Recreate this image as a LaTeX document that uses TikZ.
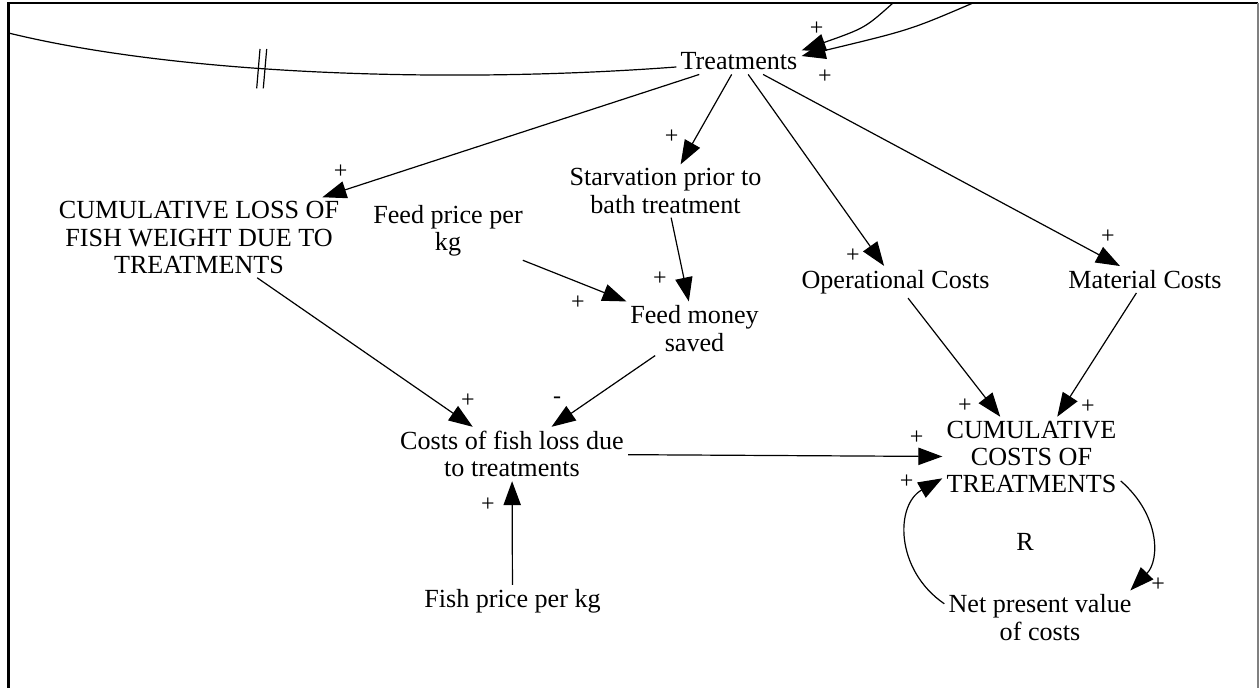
\documentclass[tikz,border=0pt]{standalone}
\usepackage{fontspec}
\setmainfont{Liberation Serif}
\usetikzlibrary{arrows.meta}

\begin{document}
\begin{tikzpicture}[x=0.75pt,y=-0.75pt,
	var/.style={inner sep=3pt, align=center, font=\fontsize{19.6}{20.4}\selectfont},
	pol/.style={inner sep=0pt, font=\fontsize{18}{20}\selectfont},
	link/.style={draw=black, line width=0.9pt, -{Triangle[length=18pt,width=13pt]}}]
	\useasboundingbox (0,0) rectangle (1259,688);
	\draw [black, line width=1.6pt] (8.5,688) -- (8.5,3) -- (1258,3);
	\draw [gray, line width=1pt] (1258,3) -- (1258,688);
	\node [var] (treat) at (739,61.5) {Treatments};
	\node [var] (cumloss) at (199,237.5) {CUMULATIVE LOSS OF\\FISH WEIGHT DUE TO\\TREATMENTS};
	\node [var] (feedprice) at (448,230.5) {Feed price per\\kg};
	\node [var] (starve) at (665.5,191) {Starvation prior to\\bath treatment};
	\node [var] (feedsaved) at (694.5,328.5) {Feed money\\saved};
	\node [var] (opcost) at (895.5,282) {Operational Costs};
	\node [var] (matcost) at (1145,279.5) {Material Costs};
	\node [var] (fishloss) at (512,454) {Costs of fish loss due\\to treatments};
	\node [var] (cumcost) at (1031.5,457) {CUMULATIVE\\COSTS OF\\TREATMENTS};
	\node [var] (fishprice) at (512.5,601) {Fish price per kg};
	\node [var] (npv) at (1040,617.5) {Net present value\\of costs};
	\node [var, inner sep=0pt] (loopr) at (1025,542) {R};
	\coordinate (leftend) at (8.5,33);
	\coordinate (topa) at (893,3);
	\coordinate (topb) at (973,3);
	\draw [line width=0.9pt] (treat.185) .. controls (450,84) and (180,75) .. (leftend);
	\draw [line width=0.9pt] (260,49) -- (256.7,88.3);
	\draw [line width=0.9pt] (266.7,49) -- (263.3,88.3);
	\draw [link] (topa) .. controls (865,28) .. (treat.10);
	\draw [link] (topb) .. controls (910,30) .. (treat.5);
	\draw [link] (treat) -- (cumloss);
	\draw [link] (treat) -- (starve);
	\draw [link] (treat) -- (opcost);
	\draw [link] (treat) -- (matcost);
	\draw [link] (starve) -- (feedsaved);
	\draw [link] (feedprice) -- (feedsaved);
	\draw [link] (feedsaved) -- (fishloss);
	\draw [link] (cumloss) -- (fishloss);
	\draw [link] (fishprice) -- (fishloss);
	\draw [link] (fishloss) -- (cumcost);
	\draw [link] (opcost) -- (cumcost);
	\draw [link] (matcost) -- (cumcost);
	\draw [link] (cumcost.-15) .. controls (1160,515) and (1160,560) .. ([xshift=-4pt]npv.north east);
	\draw [link] ([yshift=-10pt]npv.north west) .. controls (895,570) and (895,505) .. ([yshift=-16pt]cumcost.west);
	\node [pol] (pa) at (816.7,28.3) {+};
	\node [pol] (pb) at (825,76.7) {+};
	\node [pol] (pc) at (340.7,172) {+};
	\node [pol] (pd) at (671.7,136.7) {+};
	\node [pol] (pe) at (853,256) {+};
	\node [pol] (pf) at (1108,237) {+};
	\node [pol] (pg) at (660,279) {+};
	\node [pol] (ph) at (578,303) {+};
	\node [pol] (pi) at (557,400) {-};
	\node [pol] (pj) at (468,401) {+};
	\node [pol] (pk) at (488,505) {+};
	\node [pol] (pl) at (916.7,438) {+};
	\node [pol] (pm) at (965,406) {+};
	\node [pol] (pn) at (1088,407) {+};
	\node [pol] (po) at (906.7,481.7) {+};
	\node [pol] (pp) at (1158,585) {+};
\end{tikzpicture}
\end{document}
